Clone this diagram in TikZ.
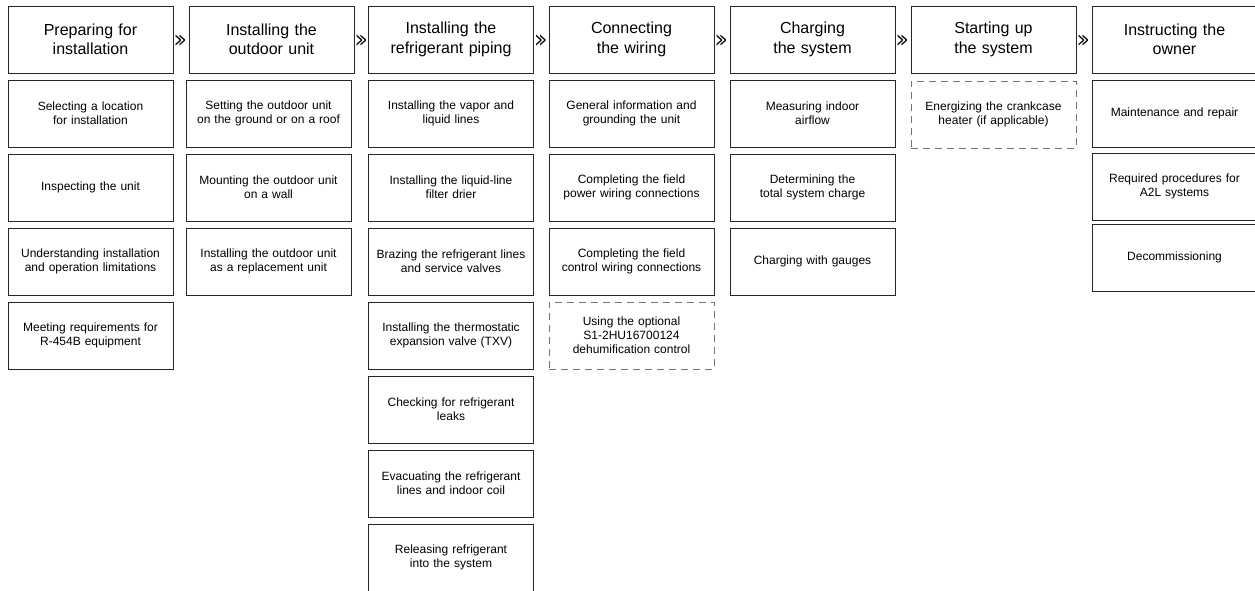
\documentclass[tikz,border=0pt]{standalone}
\usepackage{fontspec}
\setmainfont{Liberation Sans}
\newfontfamily\symfont{DejaVu Sans}
\begin{document}
\begin{tikzpicture}[x=1pt,y=-1pt,
  box/.style={draw=black!85, line width=0.8pt, minimum width=165pt, minimum height=67pt, inner sep=2pt, align=center, text width=160pt},
  head/.style={box, font=\fontsize{16}{19.5}\selectfont},
  sub/.style={box, font=\fontsize{12}{14}\selectfont},
  opt/.style={sub, draw=black!55, dash pattern=on 7pt off 5pt},
  chev/.style={anchor=center, inner sep=0pt, font=\symfont\fontsize{14}{14}\selectfont}]
\useasboundingbox (0,0) rectangle (1255,590);
% headers
\node[head] (h1) at (90.5,39.5) {Preparing for\\installation};
\node[head] (h2) at (271.5,39.5) {Installing the\\outdoor unit};
\node[head] (h3) at (451,39.5) {Installing the\\refrigerant piping};
\node[head] (h4) at (631.5,39.5) {Connecting\\the wiring};
\node[head] (h5) at (812.5,39.5) {Charging\\the system};
\node[head] (h6) at (993.5,39.5) {Starting up\\the system};
\node[head] (h7) at (1174.5,39.5) {Instructing the\\owner};
% chevrons
\node[chev] (c1) at ([xshift=7pt,yshift=-1pt]h1.east) {\scalebox{0.75}[1.35]{≫}};
\node[chev] (c2) at ([xshift=7pt,yshift=-1pt]h2.east) {\scalebox{0.75}[1.35]{≫}};
\node[chev] (c3) at ([xshift=7pt,yshift=-1pt]h3.east) {\scalebox{0.75}[1.35]{≫}};
\node[chev] (c4) at ([xshift=7pt,yshift=-1pt]h4.east) {\scalebox{0.75}[1.35]{≫}};
\node[chev] (c5) at ([xshift=7pt,yshift=-1pt]h5.east) {\scalebox{0.75}[1.35]{≫}};
\node[chev] (c6) at ([xshift=7pt,yshift=-1pt]h6.east) {\scalebox{0.75}[1.35]{≫}};
% column 1
\node[sub] (a1) at (90.5,113.5) {Selecting a location\\for installation};
\node[sub] (a2) at (90.5,187.5) {Inspecting the unit};
\node[sub] (a3) at (90.5,261.5) {Understanding installation\\and operation limitations};
\node[sub] (a4) at (90.5,335.5) {Meeting requirements for\\R-454B equipment};
% column 2
\node[sub] (b1) at (268.5,113.5) {Setting the outdoor unit\\on the ground or on a roof};
\node[sub] (b2) at (268.5,187.5) {Mounting the outdoor unit\\on a wall};
\node[sub] (b3) at (268.5,261.5) {Installing the outdoor unit\\as a replacement unit};
% column 3
\node[sub] (d1) at (451,113.5) {Installing the vapor and\\liquid lines};
\node[sub] (d2) at (451,187.5) {Installing the liquid-line\\filter drier};
\node[sub] (d3) at (451,261.5) {Brazing the refrigerant lines\\and service valves};
\node[sub] (d4) at (451,335.5) {Installing the thermostatic\\expansion valve (TXV)};
\node[sub] (d5) at (451,409.5) {Checking for refrigerant\\leaks};
\node[sub] (d6) at (451,483.5) {Evacuating the refrigerant\\lines and indoor coil};
\node[sub] (d7) at (451,557.5) {Releasing refrigerant\\into the system};
% column 4
\node[sub] (e1) at (631.5,113.5) {General information and\\grounding the unit};
\node[sub] (e2) at (631.5,187.5) {Completing the field\\power wiring connections};
\node[sub] (e3) at (631.5,261.5) {Completing the field\\control wiring connections};
\node[opt] (e4) at (631.5,335.5) {Using the optional\\S1-2HU16700124\\dehumification control};
% column 5
\node[sub] (f1) at (812.5,113.5) {Measuring indoor\\airflow};
\node[sub] (f2) at (812.5,187.5) {Determining the\\total system charge};
\node[sub] (f3) at (812.5,261.5) {Charging with gauges};
% column 6
\node[opt] (g1) at (993.5,114.5) {Energizing the crankcase\\heater (if applicable)};
% column 7
\node[sub] (k1) at (1174.5,113.5) {Maintenance and repair};
\node[sub] (k2) at (1174.5,186.5) {Required procedures for\\A2L systems};
\node[sub] (k3) at (1174.5,257.5) {Decommissioning};
\end{tikzpicture}
\end{document}
